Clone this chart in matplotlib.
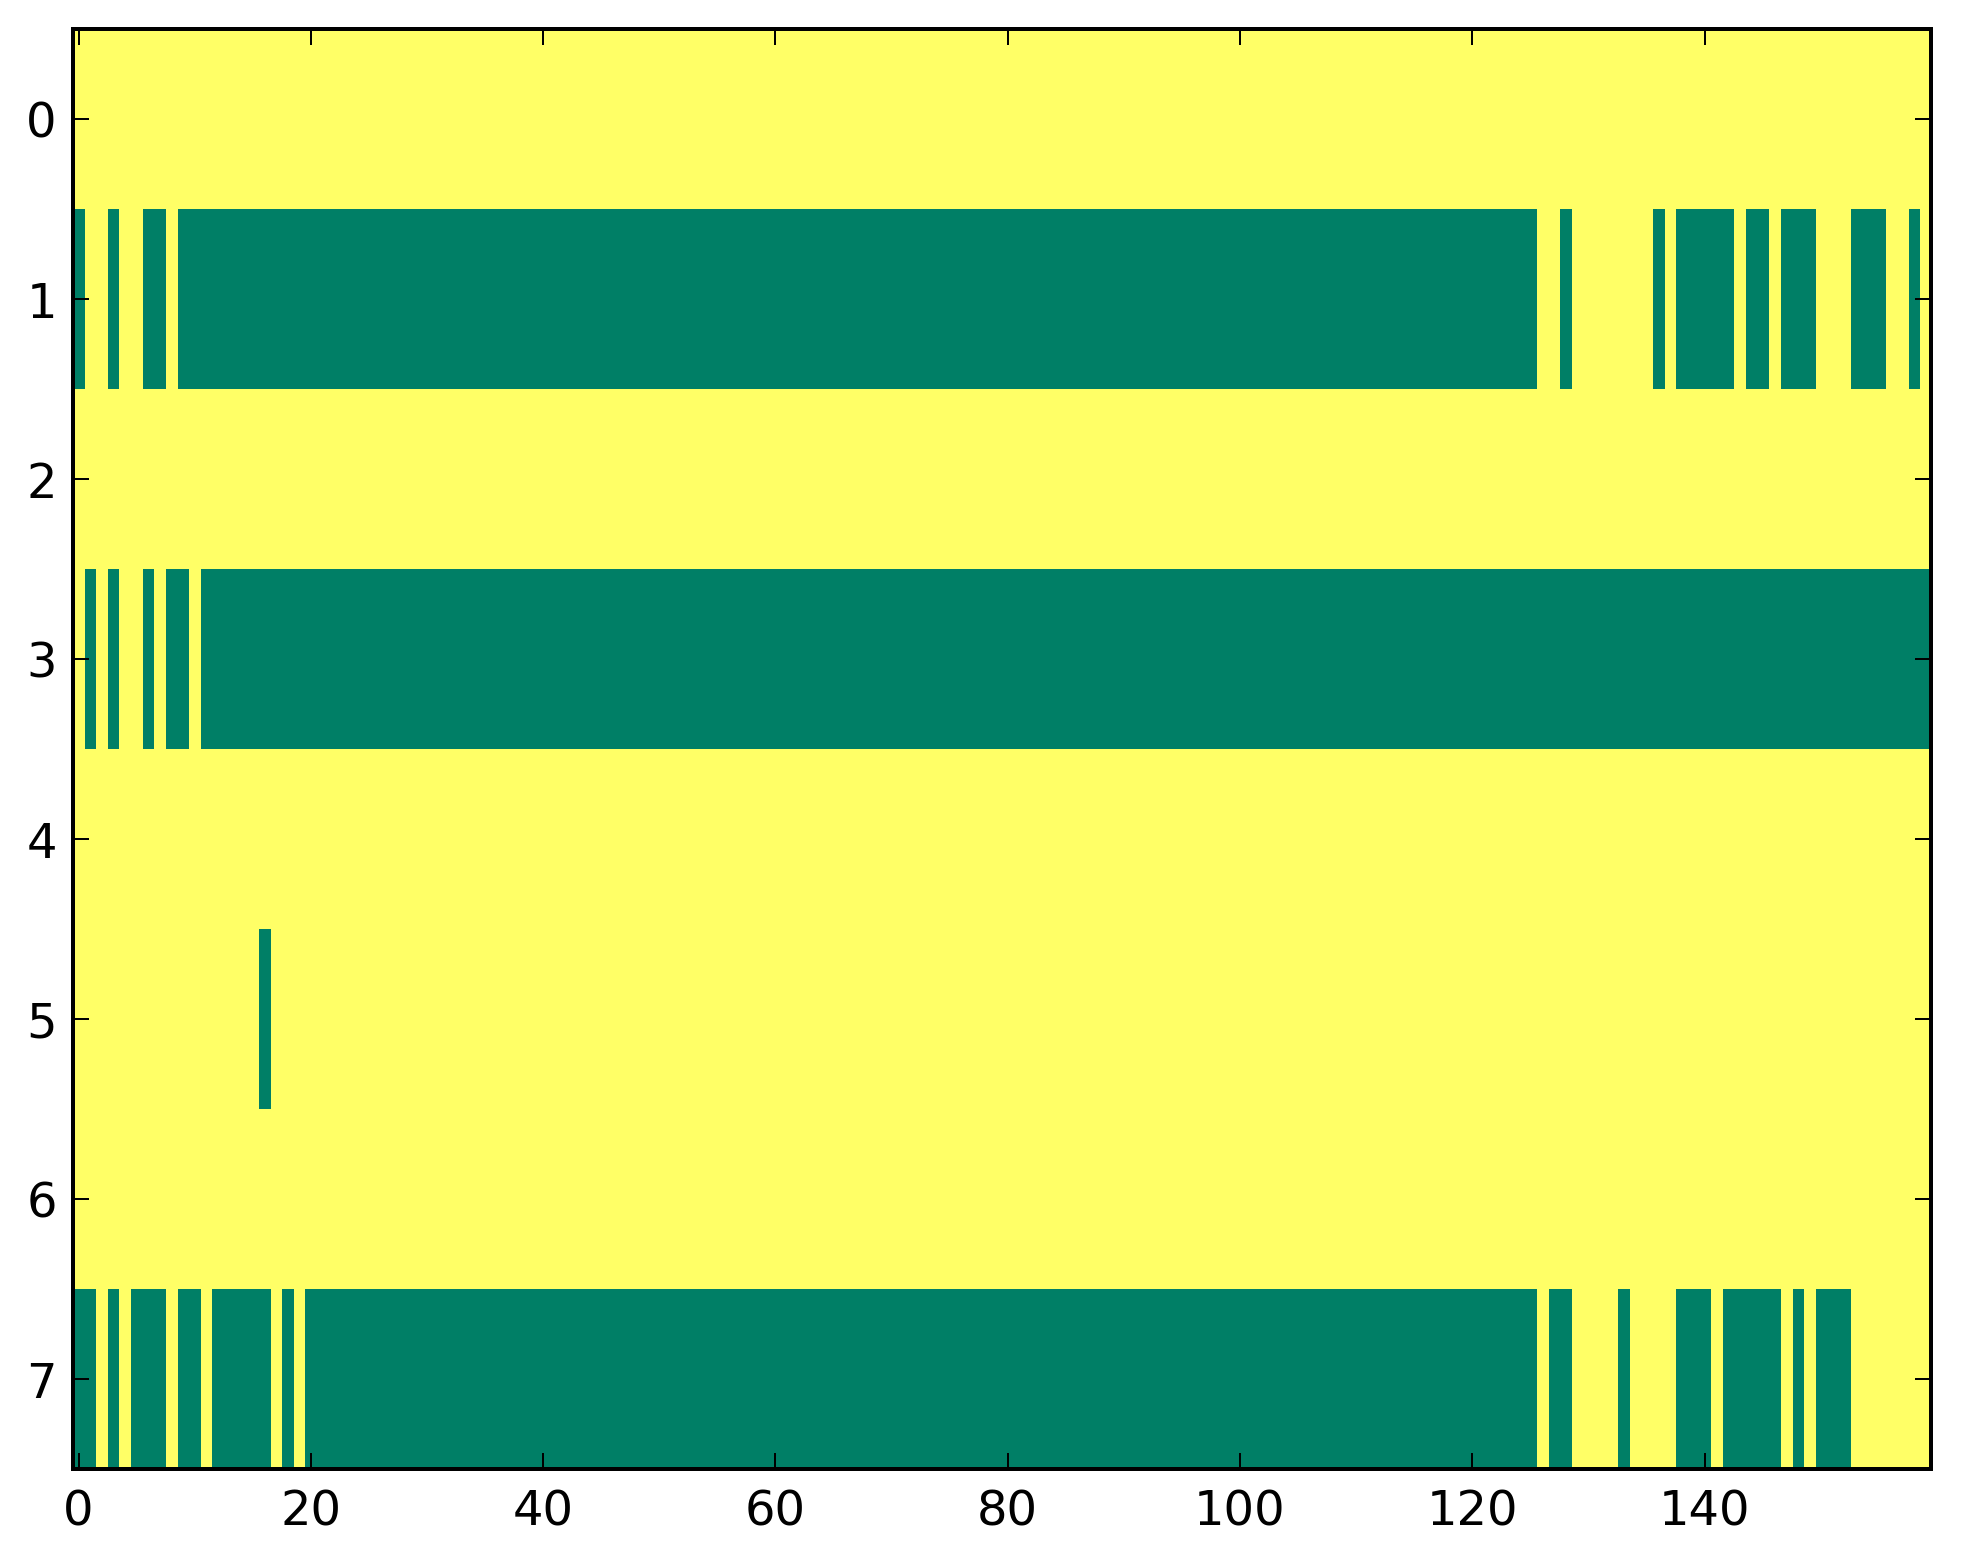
import numpy as np
import matplotlib
matplotlib.use('Agg')
import matplotlib.pyplot as plt

# %% data: 8 rows x 160 columns, 1 = yellow, 0 = green
# green (zero) runs per row, inclusive (start, end) column indices
n_rows = 8
n_cols = 160
zero_runs = {
    0: [],
    1: [(0, 0), (3, 3), (6, 7), (9, 125), (128, 128), (136, 136), (138, 142),
        (144, 145), (147, 149), (153, 155), (158, 158)],
    2: [],
    3: [(1, 1), (3, 3), (6, 6), (8, 9), (11, 159)],
    4: [],
    5: [(16, 16)],
    6: [],
    7: [(0, 1), (3, 3), (5, 7), (9, 10), (12, 16), (18, 18), (20, 125),
        (127, 128), (133, 133), (138, 140), (142, 146), (148, 148), (150, 152)],
}

grid = np.ones((n_rows, n_cols))
for row, runs in zero_runs.items():
    for a, b in runs:
        grid[row, a:b + 1] = 0

# %% classic-looking setup
plt.rcParams.update({
    'font.family': 'DejaVu Sans',
    'font.size': 12,
    'axes.linewidth': 1.0,
    'xtick.direction': 'in',
    'ytick.direction': 'in',
    'xtick.top': True,
    'ytick.right': True,
    'xtick.major.size': 4,
    'ytick.major.size': 4,
    'xtick.major.width': 0.5,
    'ytick.major.width': 0.5,
    'xtick.major.pad': 5,
    'ytick.major.pad': 4,
})

dpi = 288
fig = plt.figure(figsize=(1963 / dpi, 1564 / dpi), dpi=dpi, facecolor='white')
ax = fig.add_axes([72.7 / 1963, 1 - 1469 / 1564, (1931 - 72.7) / 1963, (1469 - 29) / 1564])

ax.imshow(grid, cmap='summer', aspect='auto', interpolation='nearest', vmin=0, vmax=1)
ax.set_xticks(np.arange(0, 160, 20))
ax.set_yticks(np.arange(0, 8, 1))

fig.savefig('out.png', dpi=dpi, facecolor='white')
